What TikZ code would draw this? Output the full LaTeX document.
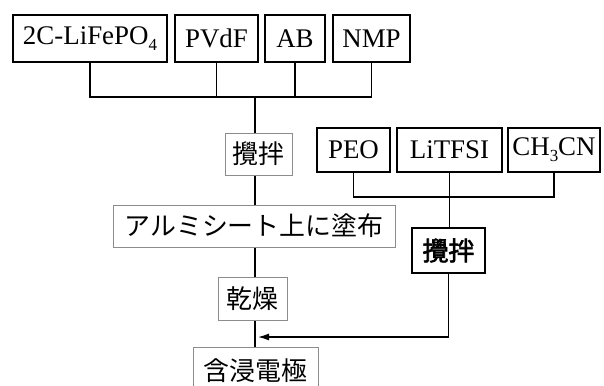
\documentclass[tikz,border=0pt]{standalone}
\usepackage{fontspec}
\setmainfont{Liberation Serif}
\newfontfamily\jp{Noto Sans CJK JP}
\newfontfamily\jpb[FakeBold=2.5]{Noto Sans CJK JP}
\usetikzlibrary{arrows.meta}
\newcommand{\lowsub}[1]{\raisebox{-0.5ex}{\fontsize{17}{17}\selectfont #1}}
\tikzset{
  bx/.style={draw=black, line width=1.3bp, inner sep=0pt, font=\fontsize{27}{27}\selectfont},
  gbx/.style={draw=black!45, line width=1bp, inner sep=0pt, font=\jp\fontsize{26}{26}\selectfont},
  tbx/.style={draw=black, line width=2bp, inner sep=0pt, font=\jpb\fontsize{26}{26}\selectfont},
  ln/.style={line width=1.3bp},
}
\begin{document}
\begin{tikzpicture}[x=1bp,y=-1bp]
\useasboundingbox (0,0) rectangle (604,385);
\clip (0,0) rectangle (604,385);
% top row
\node[bx, minimum width=154bp, minimum height=47bp] (lfp) at (90,38.5) {2C-LiFePO\lowsub{4}};
\node[bx, minimum width=83bp, minimum height=47bp] (pvdf) at (216.5,38.5) {PVdF};
\node[bx, minimum width=60bp, minimum height=47bp] (ab) at (295,38.5) {AB};
\node[bx, minimum width=77bp, minimum height=47bp] (nmp) at (371.5,38.5) {NMP};
% left column
\node[gbx, minimum width=67bp, minimum height=42bp] (stir1) at (258.5,154) {攪拌};
\node[gbx, minimum width=282bp, minimum height=42bp] (alu) at (254,226) {アルミシート上に塗布};
\node[gbx, minimum width=69bp, minimum height=43bp] (dry) at (252.5,298.5) {乾燥};
\node[gbx, minimum width=125bp, minimum height=46bp, anchor=north] (imp) at (255.5,347) {含浸電極};
% right group
\node[bx, minimum width=73bp, minimum height=44bp] (peo) at (353.5,150) {PEO};
\node[bx, minimum width=105bp, minimum height=44bp] (litfsi) at (449.5,150) {LiTFSI};
\node[bx, minimum width=92bp, minimum height=44bp] (ch3cn) at (554,150) {CH\lowsub{3}CN};
\node[tbx, minimum width=73bp, minimum height=45bp] (stir2) at (448.5,250.5) {攪拌};
% junctions
\coordinate (j1) at (255,97);
\coordinate (j2) at (449.5,197);
\coordinate (j3) at (448.5,337);
% connectors top
\draw[ln] (lfp.south) |- (nmp.south |- j1) -- (nmp.south);
\draw[ln] (pvdf.south) -- (pvdf.south |- j1);
\draw[ln] (ab.south) -- (ab.south |- j1);
\draw[ln] (j1) -- (j1 |- stir1.north);
\draw[ln] (j1 |- stir1.south) -- (j1 |- alu.north);
\draw[ln] (j1 |- alu.south) -- (j1 |- dry.north);
\draw[ln] (j1 |- dry.south) -- (j1 |- imp.north);
% right connectors
\draw[ln] (peo.south) |- (ch3cn.south |- j2) -- (ch3cn.south);
\draw[ln] (litfsi.south) -- (j2) -- (j2 |- stir2.north);
\draw[ln, -{Latex[length=11bp,width=7bp]}] (stir2.south) -- (j3) -- ([xshift=3bp]j1 |- j3);
\end{tikzpicture}
\end{document}
